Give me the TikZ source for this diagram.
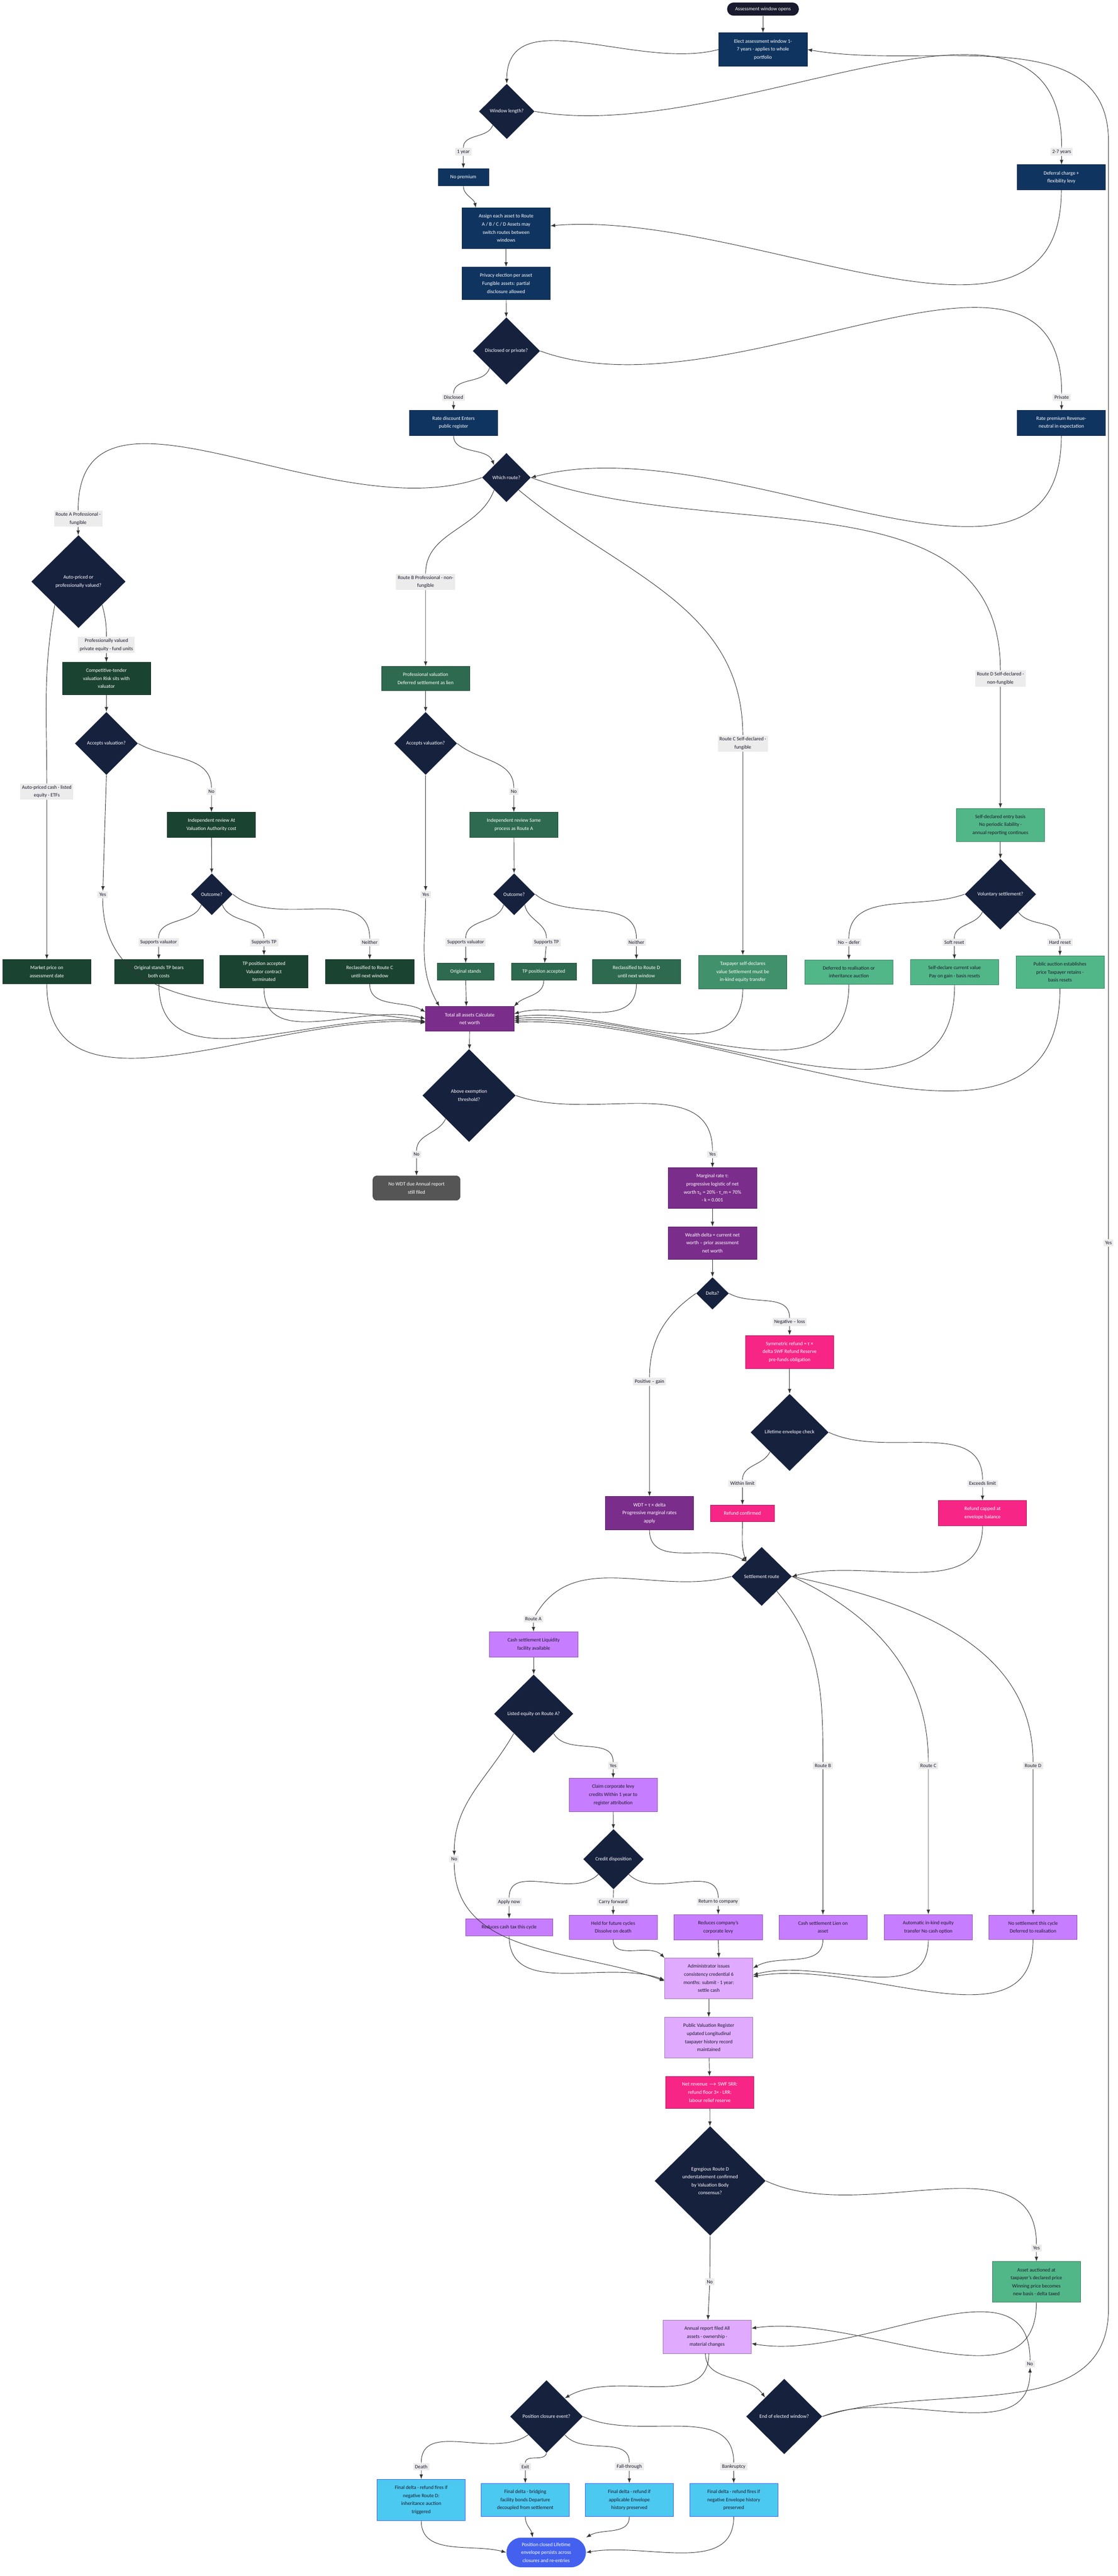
\documentclass[tikz,border=0pt]{standalone}
\usepackage{fontspec}
\setmainfont{Carlito}
\usetikzlibrary{shapes.geometric}

\definecolor{cStart}{HTML}{1A1A2E}
\definecolor{cDia}{HTML}{16213E}
\definecolor{cNavy}{HTML}{0F3460}
\definecolor{cDkGreen}{HTML}{1B4332}
\definecolor{cGreen}{HTML}{2D6A4F}
\definecolor{cMid}{HTML}{40916C}
\definecolor{cMint}{HTML}{52B788}
\definecolor{cPurple}{HTML}{7B2D8B}
\definecolor{cViolet}{HTML}{C77DFF}
\definecolor{cLilac}{HTML}{E0AAFF}
\definecolor{cPink}{HTML}{F72585}
\definecolor{cSky}{HTML}{4CC9F0}
\definecolor{cBlue}{HTML}{4361EE}
\definecolor{cGray}{HTML}{555555}
\definecolor{cEdge}{HTML}{333333}

\begin{document}
\begin{tikzpicture}[
    % Define node styles
    every node/.style={font=\fontsize{4.3}{6.8}\selectfont, align=center},
    box/.style={
        rectangle,
        draw=#1!70!black,
        line width=0.3pt,
        fill=#1,
        text=white,
        minimum width=2.62cm,
        inner xsep=2pt,
        inner ysep=0.19cm
    },
    lbox/.style={box=#1, text=cStart},
    dia/.style={
        diamond,
        fill=cDia,
        text=white,
        aspect=1,
        inner sep=0pt
    },
    lbl/.style={
        rectangle,
        fill=gray!15,
        text=cStart,
        inner sep=1.5pt
    },
    e/.style={draw=cEdge, line width=0.4pt, -latex}
]
    \useasboundingbox (0,0) rectangle (33.19,-76.54);

    % Window and route choice
    \node[fill=cStart, text=white, rounded corners=0.19cm, minimum width=2.13cm, minimum height=0.39cm] (start) at (22.66,-0.27) {Assessment window opens};
    \node[box=cNavy] (elect) at (22.66,-1.47) {Elect assessment window 1-\\7 years · applies to whole\\portfolio};
    \node[dia, minimum width=1.65cm, minimum height=1.64cm] (winLen) at (15.05,-3.31) {Window length?};
    \node[box=cNavy, minimum width=1.5cm] (noPrem) at (13.76,-5.26) {No premium};
    \node[box=cNavy] (deferral) at (31.52,-5.27) {Deferral charge +\\flexibility levy};
    \node[box=cNavy] (assign) at (15.03,-6.78) {Assign each asset to Route\\A / B / C / D Assets may\\switch routes between\\windows};
    \node[box=cNavy] (privacy) at (15.03,-8.42) {Privacy election per asset\\Fungible assets: partial\\disclosure allowed};
    \node[dia, minimum width=2cm, minimum height=2cm] (discl) at (15.04,-10.43) {Disclosed or private?};
    \node[box=cNavy] (rateDisc) at (13.47,-12.56) {Rate discount Enters\\public register};
    \node[box=cNavy] (ratePrem) at (31.52,-12.56) {Rate premium Revenue-\\neutral in expectation};
    \node[dia, minimum width=1.45cm, minimum height=1.46cm] (route) at (15.04,-14.19) {Which route?};

    % Route A
    \node[dia, minimum width=2.8cm, minimum height=2.76cm] (autoQ) at (2.33,-17.28) {Auto-priced or\\professionally valued?};
    \node[box=cDkGreen] (tender) at (3.16,-20.16) {Competitive-tender\\valuation Risk sits with\\valuator};
    \node[dia, minimum width=1.87cm, minimum height=1.87cm] (accA) at (3.16,-22.09) {Accepts valuation?};
    \node[box=cDkGreen] (reviewA) at (6.28,-24.51) {Independent review At\\Valuation Authority cost};
    \node[dia, minimum width=1.24cm, minimum height=1.24cm] (outA) at (6.29,-26.57) {Outcome?};
    \node[box=cDkGreen] (market) at (1.39,-28.87) {Market price on\\assessment date};
    \node[box=cDkGreen] (origA) at (4.72,-28.87) {Original stands TP bears\\both costs};
    \node[box=cDkGreen] (tpA) at (7.84,-28.87) {TP position accepted\\Valuator contract\\terminated};
    \node[box=cDkGreen] (reclC) at (10.98,-28.87) {Reclassified to Route C\\until next window};

    % Route B
    \node[box=cGreen] (profB) at (12.64,-20.16) {Professional valuation\\Deferred settlement as lien};
    \node[dia, minimum width=1.87cm, minimum height=1.87cm] (accB) at (12.64,-22.09) {Accepts valuation?};
    \node[box=cGreen] (reviewB) at (15.26,-24.51) {Independent review Same\\process as Route A};
    \node[dia, minimum width=1.24cm, minimum height=1.24cm] (outB) at (15.27,-26.57) {Outcome?};
    \node[box=cGreen, minimum width=1.69cm] (origB) at (13.83,-28.87) {Original stands};
    \node[box=cGreen, minimum width=1.93cm] (tpB) at (16.15,-28.87) {TP position accepted};
    \node[box=cGreen] (reclD) at (18.90,-28.87) {Reclassified to Route D\\until next window};

    % Routes C and D
    \node[box=cMid] (selfC) at (22.06,-28.88) {Taxpayer self-declares\\value Settlement must be\\in-kind equity transfer};
    \node[lbox=cMint] (selfD) at (29.71,-24.51) {Self-declared entry basis\\No periodic liability ·\\annual reporting continues};
    \node[dia, minimum width=2.12cm, minimum height=2.1cm] (volQ) at (29.71,-26.57) {Voluntary settlement?};
    \node[lbox=cMint] (deferD) at (25.21,-28.88) {Deferred to realisation or\\inheritance auction};
    \node[lbox=cMint] (softD) at (28.35,-28.88) {Self-declare current value\\Pay on gain · basis resets};
    \node[lbox=cMint] (hardD) at (31.48,-28.88) {Public auction establishes\\price Taxpayer retains ·\\basis resets};

    % Assessment
    \node[box=cPurple] (total) at (13.95,-30.27) {Total all assets Calculate\\net worth};
    \node[dia, minimum width=2.77cm, minimum height=2.76cm] (exempt) at (13.93,-32.55) {Above exemption\\threshold?};
    \node[box=cGray, rounded corners=0.12cm, minimum width=2.59cm] (noWdt) at (12.37,-35.30) {No WDT due Annual report\\still filed};
    \node[box=cPurple] (marginal) at (21.16,-35.30) {Marginal rate τ:\\progressive logistic of net\\worth τ\textsubscript{0} = 20\% · τ\_m = 70\%\\· k = 0.001};
    \node[box=cPurple] (wealth) at (21.16,-36.93) {Wealth delta = current net\\worth – prior assessment\\net worth};
    \node[dia, minimum width=0.97cm, minimum height=0.96cm] (deltaQ) at (21.16,-38.43) {Delta?};
    \node[box=cPink] (symRef) at (23.45,-40.17) {Symmetric refund = τ ×\\delta SWF Refund Reserve\\pre-funds obligation};
    \node[dia, minimum width=2.32cm, minimum height=2.29cm] (envQ) at (23.45,-42.56) {Lifetime envelope check};
    \node[box=cPurple] (wdt) at (19.29,-44.96) {WDT = τ × delta\\Progressive marginal rates\\apply};
    \node[box=cPink, minimum width=1.91cm] (refOk) at (22.05,-44.96) {Refund confirmed};
    \node[box=cPink] (refCap) at (29.18,-44.96) {Refund capped at\\envelope balance};

    % Settlement
    \node[dia, minimum width=1.79cm, minimum height=1.75cm] (settle) at (22.62,-46.84) {Settlement route};
    \node[lbox=cViolet] (cashA) at (15.85,-48.86) {Cash settlement Liquidity\\facility available};
    \node[dia, minimum width=2.35cm, minimum height=2.33cm] (listQ) at (15.85,-50.92) {Listed equity on Route A?};
    \node[lbox=cViolet] (claim) at (18.21,-53.33) {Claim corporate levy\\credits Within 1 year to\\register attribution};
    \node[dia, minimum width=1.8cm, minimum height=1.79cm] (creditQ) at (18.22,-55.24) {Credit disposition};
    \node[lbox=cViolet, minimum width=2.58cm] (applyNow) at (15.12,-57.26) {Reduces cash tax this cycle};
    \node[lbox=cViolet] (carry) at (18.21,-57.26) {Held for future cycles\\Dissolve on death};
    \node[lbox=cViolet] (retComp) at (21.33,-57.26) {Reduces company's\\corporate levy};
    \node[lbox=cViolet] (lienB) at (24.44,-57.26) {Cash settlement Lien on\\asset};
    \node[lbox=cViolet] (inkindC) at (27.57,-57.26) {Automatic in-kind equity\\transfer No cash option};
    \node[lbox=cViolet] (noSetD) at (30.68,-57.26) {No settlement this cycle\\Deferred to realisation};
    \node[lbox=cLilac] (admin) at (21.05,-58.78) {Administrator issues\\consistency credential 6\\months: submit · 1 year:\\settle cash};
    \node[lbox=cLilac] (register) at (21.05,-60.54) {Public Valuation Register\\updated Longitudinal\\taxpayer history record\\maintained};
    \node[box=cPink] (netRev) at (21.08,-62.17) {Net revenue $\rightarrow$ SWF SRR:\\refund floor 3× · LRR:\\labour relief reserve};
    \node[dia, minimum width=3.3cm, minimum height=3.25cm] (egregQ) at (21.09,-64.80) {Egregious Route D\\understatement confirmed\\by Valuation Body\\consensus?};
    \node[lbox=cMint] (auction) at (30.78,-67.80) {Asset auctioned at\\taxpayer's declared price\\Winning price becomes\\new basis · delta taxed};
    \node[lbox=cLilac] (annual) at (21.00,-69.43) {Annual report filed All\\assets · ownership ·\\material changes};

    % Closure
    \node[dia, minimum width=2.16cm, minimum height=2.16cm] (closeQ) at (16.23,-71.80) {Position closure event?};
    \node[dia, minimum width=2.26cm, minimum height=2.24cm] (endQ) at (23.29,-71.80) {End of elected window?};
    \node[lbox=cSky, draw=cBlue] (death) at (12.51,-74.28) {Final delta · refund fires if\\negative Route D:\\inheritance auction\\triggered};
    \node[lbox=cSky, draw=cBlue] (exit) at (15.60,-74.28) {Final delta · bridging\\facility bonds Departure\\decoupled from settlement};
    \node[lbox=cSky, draw=cBlue] (fall) at (18.69,-74.28) {Final delta · refund if\\applicable Envelope\\history preserved};
    \node[lbox=cSky, draw=cBlue] (bank) at (21.79,-74.28) {Final delta · refund fires if\\negative Envelope history\\preserved};
    \node[fill=cBlue, text=white, rounded corners=0.44cm, minimum width=2.36cm, minimum height=0.88cm] (closed) at (16.22,-75.84) {Position closed Lifetime\\envelope persists across\\closures and re-entries};

    % Edge labels
    \node[lbl] (lYr1) at (13.76,-4.51) {1 year};
    \node[lbl] (lYr27) at (31.53,-4.51) {2-7 years};
    \node[lbl] (lDisc) at (13.47,-11.81) {Disclosed};
    \node[lbl] (lPriv) at (31.53,-11.81) {Private};
    \node[lbl] (lRA) at (2.32,-15.41) {Route A Professional ·\\fungible};
    \node[lbl] (lRB) at (12.64,-17.29) {Route B Professional · non-\\fungible};
    \node[lbl] (lRC) at (22.06,-22.09) {Route C Self-declared ·\\fungible};
    \node[lbl] (lRD) at (29.71,-20.16) {Route D Self-declared ·\\non-fungible};
    \node[lbl] (lProf) at (3.16,-19.16) {Professionally valued\\private equity · fund units};
    \node[lbl] (lAuto) at (1.39,-23.52) {Auto-priced cash · listed\\equity · ETFs};
    \node[lbl] (lNoA) at (6.28,-23.52) {No};
    \node[lbl] (lNoB) at (15.26,-23.52) {No};
    \node[lbl] (lYesA) at (3.05,-26.58) {Yes};
    \node[lbl] (lYesB) at (12.64,-26.58) {Yes};
    \node[lbl] (lSVA) at (4.71,-28.00) {Supports valuator};
    \node[lbl] (lTPA) at (7.84,-28.00) {Supports TP};
    \node[lbl] (lNeA) at (10.98,-28.00) {Neither};
    \node[lbl] (lSVB) at (13.83,-28.00) {Supports valuator};
    \node[lbl] (lTPB) at (16.23,-28.00) {Supports TP};
    \node[lbl] (lNeB) at (18.90,-28.00) {Neither};
    \node[lbl] (lDefer) at (25.21,-28.00) {No – defer};
    \node[lbl] (lSoft) at (28.34,-28.00) {Soft reset};
    \node[lbl] (lHard) at (31.48,-28.00) {Hard reset};
    \node[lbl] (lNoEx) at (12.37,-34.30) {No};
    \node[lbl] (lYesEx) at (21.16,-34.30) {Yes};
    \node[lbl] (lNeg) at (23.45,-39.28) {Negative – loss};
    \node[lbl] (lPos) at (19.29,-41.05) {Positive – gain};
    \node[lbl] (lWithin) at (22.05,-44.08) {Within limit};
    \node[lbl] (lExceeds) at (29.18,-44.08) {Exceeds limit};
    \node[lbl] (lRtA) at (15.84,-48.10) {Route A};
    \node[lbl] (lRtB) at (24.44,-52.46) {Route B};
    \node[lbl] (lRtC) at (27.57,-52.46) {Route C};
    \node[lbl] (lRtD) at (30.68,-52.46) {Route D};
    \node[lbl] (lYesL) at (18.21,-52.46) {Yes};
    \node[lbl] (lNoL) at (13.49,-55.24) {No};
    \node[lbl] (lApply) at (15.12,-56.51) {Apply now};
    \node[lbl] (lCarry) at (18.21,-56.51) {Carry forward};
    \node[lbl] (lRet) at (21.33,-56.51) {Return to company};
    \node[lbl] (lYesEg) at (30.78,-66.80) {Yes};
    \node[lbl] (lNoEg) at (21.08,-67.80) {No};
    \node[lbl] (lDeath) at (12.51,-73.29) {Death};
    \node[lbl] (lExit) at (15.60,-73.29) {Exit};
    \node[lbl] (lFall) at (18.69,-73.29) {Fall-through};
    \node[lbl] (lBank) at (21.79,-73.29) {Bankruptcy};
    \node[lbl] (lNoEnd) at (30.59,-70.24) {No};
    \node[lbl] (lYesEnd) at (32.92,-36.93) {Yes};
    \coordinate (bendTop) at (32.92,-4.2);
    \coordinate (bendLow) at (32.92,-68.6);

    % Window and route choice edges
    \draw[e] (start) -- (elect);
    \draw[e] (elect.west) to[out=195,in=90] (winLen.north);
    \draw[e] (winLen.south west) to[out=-110,in=90] (lYr1) -- (noPrem);
    \draw[e] (winLen.east) to[out=-10,in=90] (lYr27) -- (deferral);
    \draw[e] (noPrem.south) to[out=-90,in=100] ([xshift=-0.9cm]assign.north);
    \draw[e] (deferral.south) to[out=-90,in=5] ([yshift=0.07cm]assign.east);
    \draw[e] (assign) -- (privacy);
    \draw[e] (privacy) -- (discl);
    \draw[e] (discl.south west) to[out=-105,in=90] (lDisc) -- (rateDisc);
    \draw[e] (discl.east) to[out=-20,in=90] (lPriv) -- (ratePrem);
    \draw[e] (rateDisc.south) to[out=-90,in=110] (route.north west);
    \draw[e] (ratePrem.south) to[out=-90,in=15] (route.east);
    \draw[e] (route.west) to[out=200,in=90] (lRA) -- (autoQ);
    \draw[e] (route.south west) to[out=-110,in=90] (lRB) -- (profB);
    \draw[e] (route.south east) to[out=-40,in=90] (lRC) -- (selfC);
    \draw[e] (route.east) to[out=-20,in=90] (lRD) -- (selfD);

    % Route A and B edges
    \draw[e] (autoQ.south west) to[out=-100,in=90] (lAuto) -- (market);
    \draw[e] (autoQ.south east) to[out=-75,in=90] (lProf) -- (tender);
    \draw[e] (tender) -- (accA);
    \draw[e] (accA.east) to[out=-30,in=90] (lNoA) -- (reviewA);
    \draw[e] (reviewA) -- (outA);
    \draw[e] (outA.south west) to[out=-110,in=90] (lSVA) -- (origA);
    \draw[e] (outA.south east) to[out=-70,in=90] (lTPA) -- (tpA);
    \draw[e] (outA.east) to[out=-40,in=90] (lNeA) -- (reclC);
    \draw[e] (profB) -- (accB);
    \draw[e] (accB.east) to[out=-40,in=90] (lNoB) -- (reviewB);
    \draw[e] (reviewB) -- (outB);
    \draw[e] (outB.south west) to[out=-105,in=90] (lSVB) -- (origB);
    \draw[e] (outB.south east) to[out=-80,in=90] (lTPB) -- (tpB);
    \draw[e] (outB.east) to[out=-40,in=90] (lNeB) -- (reclD);
    \draw[e] (accA.south) -- (lYesA);
    \draw[e] (lYesA) to[out=-90,in=170] ([yshift=-0.08cm]total.west);
    \draw[e] (accB.south) -- (lYesB);
    \draw[e] (lYesB) to[out=-90,in=120] ([xshift=-0.9cm]total.north);
    \draw[e] (market.south) to[out=-90,in=175] ([yshift=-0.12cm]total.west);
    \draw[e] (origA.south) to[out=-90,in=172] ([yshift=-0.1cm]total.west);
    \draw[e] (tpA.south) to[out=-90,in=165] (total.west);
    \draw[e] (reclC.south) to[out=-90,in=150] ([yshift=0.2cm]total.west);
    \draw[e] (origB.south) -- ([xshift=-0.1cm]total.north);
    \draw[e] (tpB.south) to[out=-90,in=45] (total.north east);
    \draw[e] (reclD.south) to[out=-90,in=15] ([yshift=0.15cm]total.east);
    \draw[e] (selfC.south) to[out=-90,in=8] ([yshift=0.05cm]total.east);
    \draw[e] (deferD.south) to[out=-90,in=5] (total.east);
    \draw[e] (softD.south) to[out=-90,in=3] ([yshift=-0.05cm]total.east);
    \draw[e] (hardD.south) to[out=-90,in=2] ([yshift=-0.1cm]total.east);

    % Routes C and D edges
    \draw[e] (selfD) -- (volQ);
    \draw[e] (volQ.west) to[out=200,in=90] (lDefer) -- (deferD);
    \draw[e] (volQ.south west) to[out=-115,in=90] (lSoft) -- (softD);
    \draw[e] (volQ.south east) to[out=-55,in=90] (lHard) -- (hardD);

    % Assessment edges
    \draw[e] (total) -- (exempt);
    \draw[e] (exempt.south west) to[out=-115,in=90] (lNoEx) -- (noWdt);
    \draw[e] (exempt.east) to[out=-20,in=90] (lYesEx) -- (marginal);
    \draw[e] (marginal) -- (wealth);
    \draw[e] (wealth) -- (deltaQ);
    \draw[e] (deltaQ.west) to[out=215,in=90] (lPos) -- (wdt);
    \draw[e] (deltaQ.east) to[out=-30,in=90] (lNeg) -- (symRef);
    \draw[e] (symRef) -- (envQ);
    \draw[e] (envQ.south west) to[out=-115,in=90] (lWithin) -- (refOk);
    \draw[e] (envQ.east) to[out=-25,in=90] (lExceeds) -- (refCap);
    \draw[e] (wdt.south) to[out=-90,in=150] (settle.north west);
    \draw[e] (refOk.south) to[out=-90,in=110] (settle.north west);
    \draw[e] (refCap.south) to[out=-90,in=15] (settle.east);

    % Settlement edges
    \draw[e] (settle.west) to[out=195,in=60] (lRtA) -- (cashA);
    \draw[e] (settle.south east) to[out=-50,in=90] (lRtB) -- (lienB);
    \draw[e] (settle.east) to[out=-25,in=90] (lRtC) -- (inkindC);
    \draw[e] (settle.east) to[out=-12,in=90] (lRtD) -- (noSetD);
    \draw[e] (cashA) -- (listQ);
    \draw[e] (listQ.south east) to[out=-60,in=90] (lYesL) -- (claim);
    \draw[e] (listQ.south west) to[out=-120,in=90] (lNoL);
    \draw[e] (lNoL) to[out=-90,in=160] ([yshift=-0.08cm]admin.west);
    \draw[e] (claim) -- (creditQ);
    \draw[e] (creditQ.south west) to[out=-135,in=90] (lApply) -- (applyNow);
    \draw[e] (creditQ.south) -- (lCarry) -- (carry);
    \draw[e] (creditQ.south east) to[out=-45,in=90] (lRet) -- (retComp);
    \draw[e] (applyNow.south) to[out=-90,in=160] ([yshift=-0.05cm]admin.west);
    \draw[e] (carry.south) to[out=-90,in=135] (admin.north west);
    \draw[e] (retComp.south) -- ([xshift=0.3cm]admin.north);
    \draw[e] (lienB.south) to[out=-90,in=30] ([yshift=0.3cm]admin.east);
    \draw[e] (inkindC.south) to[out=-90,in=15] ([yshift=0.1cm]admin.east);
    \draw[e] (noSetD.south) to[out=-90,in=10] ([yshift=0.05cm]admin.east);
    \draw[e] (admin) -- (register);
    \draw[e] (register) -- (netRev);
    \draw[e] (netRev) -- (egregQ);
    \draw[e] (egregQ.south) -- (lNoEg) -- (annual);
    \draw[e] (egregQ.east) to[out=-25,in=90] (lYesEg) -- (auction);
    \draw[e] (auction.south) to[out=-90,in=8] ([yshift=0.25cm]annual.east);

    % Closure and loop edges
    \draw[e] ([xshift=0.05cm]annual.south) to[out=-90,in=30] (closeQ.north east);
    \draw[e] ([xshift=-0.05cm]annual.south) to[out=-90,in=125] (endQ.north west);
    \draw[e] (endQ.east) to[out=22,in=-90] (lNoEnd);
    \draw[e] (lNoEnd) to[out=90,in=-10] ([yshift=-0.2cm]annual.east);
    \draw[e] (endQ.east) to[out=18,in=-90] (bendLow) -- (lYesEnd) -- (bendTop) to[out=90,in=-10] (elect.east);
    \draw[e] (closeQ.south west) to[out=-145,in=90] (lDeath) -- (death);
    \draw[e] (closeQ.south) to[out=-100,in=90] (lExit) -- (exit);
    \draw[e] (closeQ.south east) to[out=-50,in=90] (lFall) -- (fall);
    \draw[e] (closeQ.east) to[out=-25,in=90] (lBank) -- (bank);
    \draw[e] (death.south) to[out=-90,in=165] (closed.west);
    \draw[e] (exit.south) to[out=-90,in=100] ([xshift=-0.4cm]closed.north);
    \draw[e] (fall.south) to[out=-90,in=30] (closed.north east);
    \draw[e] (bank.south) to[out=-90,in=10] (closed.east);
\end{tikzpicture}
\end{document}
